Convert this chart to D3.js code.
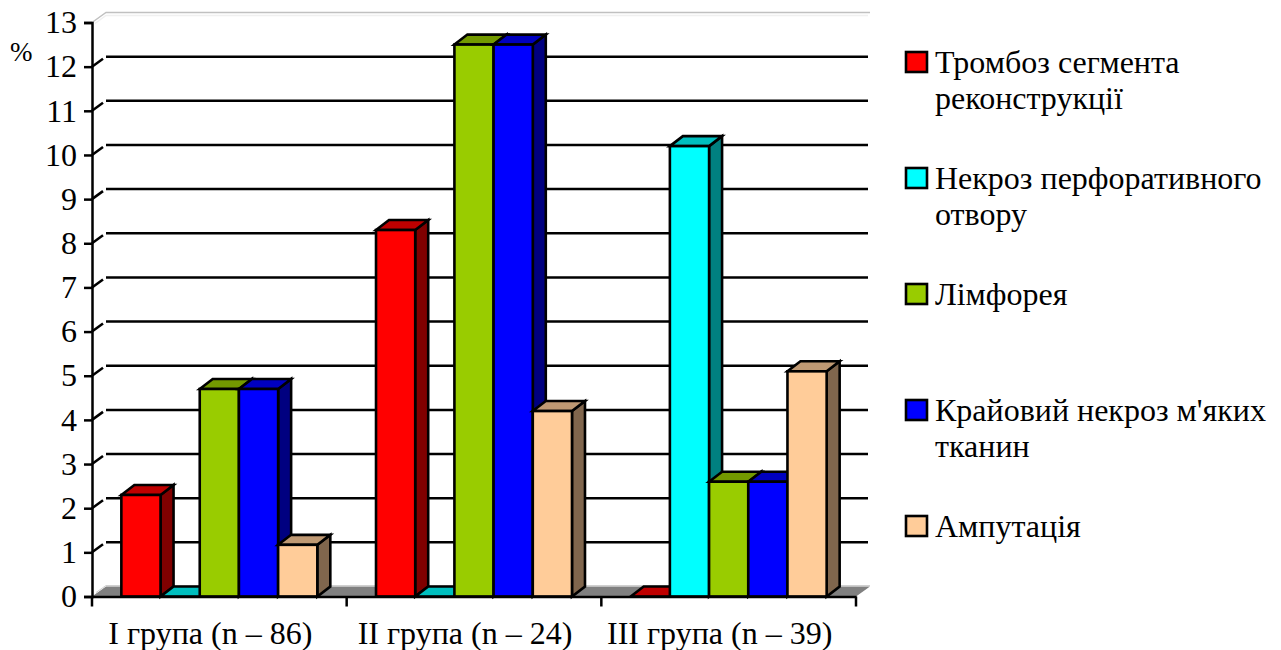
<!DOCTYPE html>
<html>
<head>
<meta charset="utf-8">
<script src="https://cdnjs.cloudflare.com/ajax/libs/d3/7.8.5/d3.min.js"></script>
<style>
html,body{margin:0;padding:0;background:#fff}
svg{display:block}
text{font-family:"Liberation Serif",serif;fill:#000}
</style>
</head>
<body>
<svg id="chart" width="1281" height="650"></svg>
<script>
// Complication rates by patient group, per cent
const groups = ["I група (n – 86)", "II група (n – 24)", "III група (n – 39)"];
const seriesNames = [
  ["Тромбоз сегмента", "реконструкції"],
  ["Некроз перфоративного", "отвору"],
  ["Лімфорея"],
  ["Крайовий некроз м'яких", "тканин"],
  ["Ампутація"]
];
const thrombosis = [2.3, 8.3, 0];
const necrosisPerforation = [0, 0, 10.2];
const lymphorrhea = [4.7, 12.5, 2.6];
const marginalNecrosis = [4.7, 12.5, 2.6];
const amputation = [1.17, 4.2, 5.1];
const seriesValues = [thrombosis, necrosisPerforation, lymphorrhea, marginalNecrosis, amputation];
const frontColors = ["#ff0000", "#00ffff", "#99cc00", "#0000ff", "#ffcc99"];
const yTicks = d3.range(0, 14);
const legendY = [64, 180, 296, 412, 528];

const svg = d3.select("#chart");
const depthX = 14, depthY = 10, barDepthX = 13;
const x0 = d3.scaleBand().domain(groups).range([92, 856]).paddingInner(0).paddingOuter(0);
const gapShare = 0.2305;
const x1 = d3.scaleBand().domain(d3.range(5)).range([x0.bandwidth() * gapShare / 2, x0.bandwidth() * (1 - gapShare / 2)]);
const y = d3.scaleLinear().domain([0, 13]).range([596.5, 22.5]);

// Back wall and floor of the 3D box
const left = x0.range()[0], right = x0.range()[1];
svg.append("path")
  .attr("d", `M${left},${y(13)}L${left + depthX},${y(13) - depthY}H${right + depthX}`)
  .attr("fill", "none").attr("stroke", "#c0c0c0").attr("stroke-width", 1.5);
svg.append("path")
  .attr("d", `M${left + 3},${y(13) + 1}L${left + depthX},${y(13) - depthY + 3}H${right + depthX - 2}`)
  .attr("fill", "none").attr("stroke", "#f0f0f0").attr("stroke-width", 1.5);
svg.append("path")
  .attr("d", `M${left},${y(0)}L${left + depthX},${y(0) - depthY}H${right + depthX}L${right},${y(0)}Z`)
  .attr("fill", "#808080");
svg.append("path")
  .attr("d", `M${left + 4},${y(0) - 4}L${left + depthX},${y(0) - depthY - 1}H${right + depthX}`)
  .attr("fill", "none").attr("stroke", "#d0d0d0").attr("stroke-width", 1);

// Gridlines on the wall with their slanted links to the axis
const grid = svg.append("g");
yTicks.filter(d => d > 0 && d < 13).forEach(d => {
  grid.append("line")
    .attr("x1", left).attr("x2", left + depthX - 3)
    .attr("y1", y(d)).attr("y2", y(d) - depthY + 2)
    .attr("stroke", "#000").attr("stroke-width", 2.5);
  grid.append("line")
    .attr("x1", left + depthX).attr("x2", right + depthX - 2)
    .attr("y1", y(d) - depthY).attr("y2", y(d) - depthY)
    .attr("stroke", "#000").attr("stroke-width", 2.5);
});

// Shades the side and top faces of a bar from its front colour
function shade(c, k) {
  const rgb = d3.rgb(c);
  return d3.rgb(rgb.r * k, rgb.g * k, rgb.b * k).formatHex();
}

const barsLayer = svg.append("g")
  .attr("stroke", "#000").attr("stroke-width", 2.6).attr("stroke-linejoin", "miter");
groups.forEach((g, gi) => {
  seriesValues.forEach((vals, si) => {
    const v = vals[gi];
    const l = x0(g) + x1(si), r = l + x1.bandwidth();
    const t = y(v), b = y(0);
    const bar = barsLayer.append("g");
    // side face
    bar.append("path")
      .attr("d", `M${r},${t}L${r + barDepthX},${t - depthY}V${b - depthY}L${r},${b}Z`)
      .attr("fill", shade(frontColors[si], 0.5));
    // top face
    bar.append("path")
      .attr("d", `M${l},${t}L${l + barDepthX},${t - depthY}H${r + barDepthX}L${r},${t}Z`)
      .attr("fill", shade(frontColors[si], 0.75));
    // front face
    if (v > 0) {
      bar.append("rect")
        .attr("x", l).attr("y", t).attr("width", r - l).attr("height", b - t)
        .attr("fill", frontColors[si]);
    }
  });
});

// Axes
const yAxis = d3.axisLeft(y).tickValues(yTicks).tickSize(8).tickPadding(7).tickFormat(d3.format("d"));
const gy = svg.append("g").attr("transform", `translate(${left},0)`).call(yAxis);
const xAxis = d3.axisBottom(x0).tickSize(0).tickPadding(25);
const gx = svg.append("g").attr("transform", `translate(0,${y(0)})`).call(xAxis);
[gy, gx].forEach(a => {
  a.selectAll("path.domain").attr("stroke", "#000").attr("stroke-width", 2.5);
  a.selectAll(".tick line").attr("stroke", "#000").attr("stroke-width", 2.5);
  a.selectAll("text").attr("font-family", "Liberation Serif").attr("font-size", 32).attr("fill", "#000");
});
gx.selectAll("text").attr("dy", "0.71em").attr("dx", -9);

// Category separators below the floor
svg.append("g").selectAll("line")
  .data(d3.range(groups.length + 1))
  .join("line")
  .attr("x1", i => left + i * x0.step())
  .attr("x2", i => left + i * x0.step())
  .attr("y1", y(0)).attr("y2", y(0) + 10)
  .attr("stroke", "#000").attr("stroke-width", 2.5);

svg.append("text").attr("x", 10).attr("y", 61).attr("font-size", 27).text("%");

// Legend
const legend = svg.append("g");
seriesNames.forEach((lines, i) => {
  legend.append("rect")
    .attr("x", 906).attr("y", legendY[i] - 12).attr("width", 21).attr("height", 20)
    .attr("fill", frontColors[i]).attr("stroke", "#000").attr("stroke-width", 2.6);
  lines.forEach((s, j) => {
    legend.append("text")
      .attr("x", 935).attr("y", legendY[i] + 9 + j * 36)
      .attr("font-size", 32).text(s);
  });
});
</script>
</body>
</html>
